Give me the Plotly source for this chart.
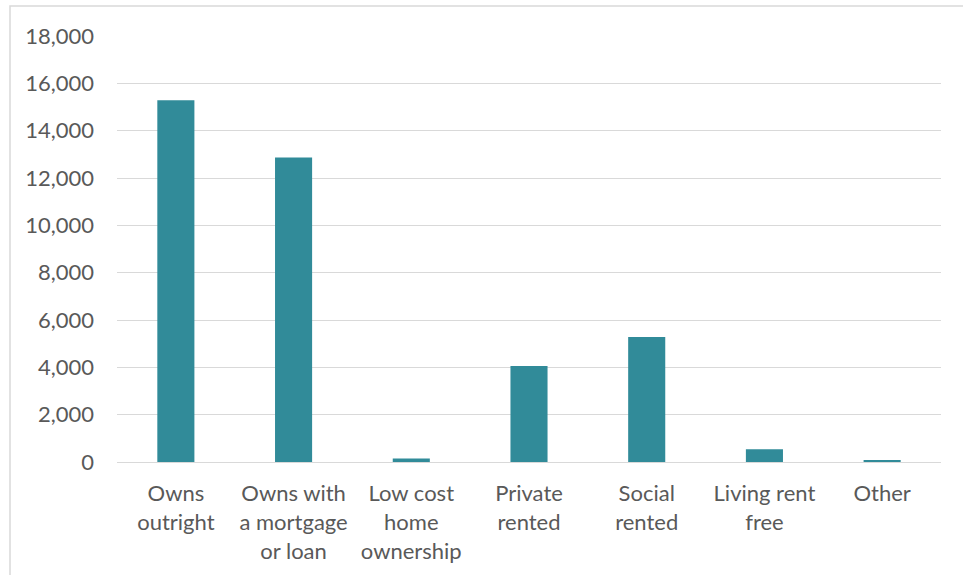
import plotly.graph_objects as go

# Household tenure categories and counts
categories = [
    "Owns<br>outright",
    "Owns with<br>a mortgage<br>or loan",
    "Low cost<br>home<br>ownership",
    "Private<br>rented",
    "Social<br>rented",
    "Living rent<br>free",
    "Other",
]
households = [15290, 12870, 150, 4060, 5280, 540, 50]
y_ticks = [0, 2000, 4000, 6000, 8000, 10000, 12000, 14000, 16000, 18000]

W, H = 963, 575
L, R, T, B = 117, 22, 36, 113
pw, ph = W - L - R, H - T - B

fig = go.Figure(
    go.Bar(
        x=categories,
        y=households,
        marker=dict(color="#318B99", line=dict(width=0)),
        width=0.315,
    )
)

font = dict(family="Lato, 'Open Sans', sans-serif", size=22, color="#595959")

fig.update_layout(
    width=W,
    height=H,
    margin=dict(l=L, r=R, t=T, b=B, pad=0),
    paper_bgcolor="white",
    plot_bgcolor="white",
    showlegend=False,
    font=font,
    xaxis=dict(
        showgrid=False,
        showline=True,
        linecolor="#D9D9D9",
        linewidth=1,
        ticks="",
        ticklabelstandoff=12,
        tickfont=font,
        fixedrange=True,
    ),
    yaxis=dict(
        range=[0, 18000],
        tickvals=y_ticks,
        tickformat=",",
        showgrid=True,
        gridcolor="#D9D9D9",
        gridwidth=1,
        zeroline=False,
        showline=False,
        ticks="",
        ticklabelstandoff=22,
        tickfont=font,
        fixedrange=True,
    ),
    shapes=[
        dict(
            type="rect",
            xref="paper",
            yref="paper",
            x0=(10 - L) / pw,
            x1=(W + 20 - L) / pw,
            y0=-(H + 20 - T - ph) / ph,
            y1=1 + (T - 6) / ph,
            line=dict(color="#D9D9D9", width=1.5),
            fillcolor="rgba(0,0,0,0)",
            layer="below",
        )
    ],
)

fig.write_html("out.html")
